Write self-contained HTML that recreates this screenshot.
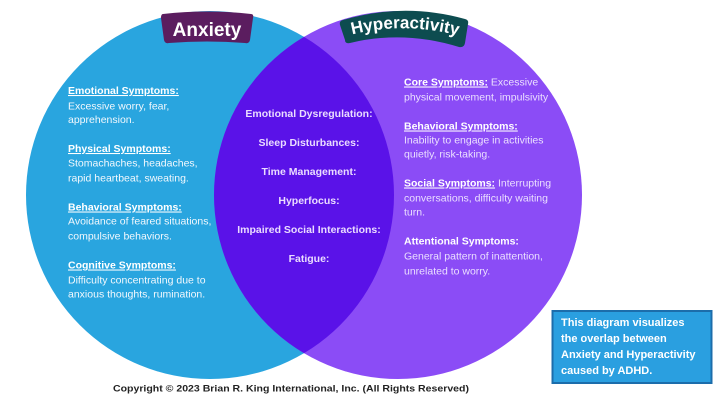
<!DOCTYPE html>
<html>
<head>
<meta charset="utf-8">
<style>
  html, body { margin: 0; padding: 0; background: #ffffff; }
  body { width: 720px; height: 406px; overflow: hidden; }
  svg { display: block; font-family: "Liberation Sans", Arial, sans-serif; }
  .h { font-weight: bold; text-decoration: underline; }
  .b { font-weight: normal; }
</style>
</head>
<body>
<svg width="720" height="406" viewBox="0 0 720 406" xmlns="http://www.w3.org/2000/svg">
  <defs>
    <clipPath id="leftC"><circle cx="210" cy="195" r="184"/></clipPath>
    <path id="hyArc" d="M346,36 Q404,20 464,37" fill="none"/>
  </defs>
  <rect width="720" height="406" fill="#ffffff"/>

  <!-- circles -->
  <circle cx="210" cy="195" r="184" fill="#29a5df"/>
  <circle cx="398" cy="195" r="184" fill="#8b4cf6"/>
  <circle cx="398" cy="195" r="184" fill="#5a12e8" clip-path="url(#leftC)"/>

  <!-- Anxiety badge -->
  <path d="M163,14 Q207,9 251,14 Q254,14 253,18 L250,40 Q249,44 245,43 Q207,40 169,43 Q165,44 164,40 L161,18 Q161,14 163,14 Z" fill="#5b1d5f"/>
  <text x="207" y="36" font-size="19" font-weight="bold" fill="#ffffff" text-anchor="middle">Anxiety</text>

  <!-- Hyperactivity badge -->
  <path d="M343,20 Q404,2 465,19 Q469,20 468,24 L465,43 Q464,48 459,47 Q404,30 350,43 Q345,44 345,40 L340,25 Q339,21 343,20 Z" fill="#0d4c50"/>
  <text font-size="17" font-weight="bold" fill="#ffffff" text-anchor="middle">
    <textPath href="#hyArc" startOffset="50%">Hyperactivity</textPath>
  </text>

  <!-- Left column -->
  <g font-size="10.5" fill="#f2f8fd">
    <text x="68" y="94" class="h" fill="#ffffff">Emotional Symptoms:</text>
    <text x="68" y="109.5">Excessive worry, fear,</text>
    <text x="68" y="123">apprehension.</text>

    <text x="68" y="152" class="h" fill="#ffffff">Physical Symptoms:</text>
    <text x="68" y="166.5">Stomachaches, headaches,</text>
    <text x="68" y="181.5">rapid heartbeat, sweating.</text>

    <text x="68" y="210.5" class="h" fill="#ffffff">Behavioral Symptoms:</text>
    <text x="68" y="224.5">Avoidance of feared situations,</text>
    <text x="68" y="239.5">compulsive behaviors.</text>

    <text x="68" y="268.5" class="h" fill="#ffffff">Cognitive Symptoms:</text>
    <text x="68" y="283.5">Difficulty concentrating due to</text>
    <text x="68" y="297.5">anxious thoughts, rumination.</text>
  </g>

  <!-- Center (lens) -->
  <g font-size="10.5" font-weight="bold" fill="#eadcff" text-anchor="middle">
    <text x="309" y="117">Emotional Dysregulation:</text>
    <text x="309" y="146">Sleep Disturbances:</text>
    <text x="309" y="175">Time Management:</text>
    <text x="309" y="204">Hyperfocus:</text>
    <text x="309" y="233">Impaired Social Interactions:</text>
    <text x="309" y="262">Fatigue:</text>
  </g>

  <!-- Right column -->
  <g font-size="10.5" fill="#ebdfff">
    <text x="404" y="85.5"><tspan class="h" fill="#ffffff">Core Symptoms:</tspan><tspan> Excessive</tspan></text>
    <text x="404" y="100.5">physical movement, impulsivity</text>

    <text x="404" y="129.5" class="h" fill="#ffffff">Behavioral Symptoms:</text>
    <text x="404" y="143.5">Inability to engage in activities</text>
    <text x="404" y="157.5">quietly, risk-taking.</text>

    <text x="404" y="186.5"><tspan class="h" fill="#ffffff">Social Symptoms:</tspan><tspan> Interrupting</tspan></text>
    <text x="404" y="201.5">conversations, difficulty waiting</text>
    <text x="404" y="215.5">turn.</text>

    <text x="404" y="244.5" font-weight="bold" fill="#ffffff">Attentional Symptoms:</text>
    <text x="404" y="259.5">General pattern of inattention,</text>
    <text x="404" y="274.5">unrelated to worry.</text>
  </g>

  <!-- Info box -->
  <rect x="552.5" y="311" width="159" height="72" fill="#2a9fe0" stroke="#1c6dab" stroke-width="2"/>
  <g font-size="11" font-weight="bold" fill="#ffffff">
    <text x="561" y="326">This diagram visualizes</text>
    <text x="561" y="342">the overlap between</text>
    <text x="561" y="358">Anxiety and Hyperactivity</text>
    <text x="561" y="374">caused by ADHD.</text>
  </g>

  <!-- Copyright -->
  <text x="113" y="391.5" font-size="9.5" font-weight="bold" fill="#222222" textLength="356" lengthAdjust="spacingAndGlyphs">Copyright © 2023 Brian R. King International, Inc. (All Rights Reserved)</text>
</svg>
</body>
</html>
